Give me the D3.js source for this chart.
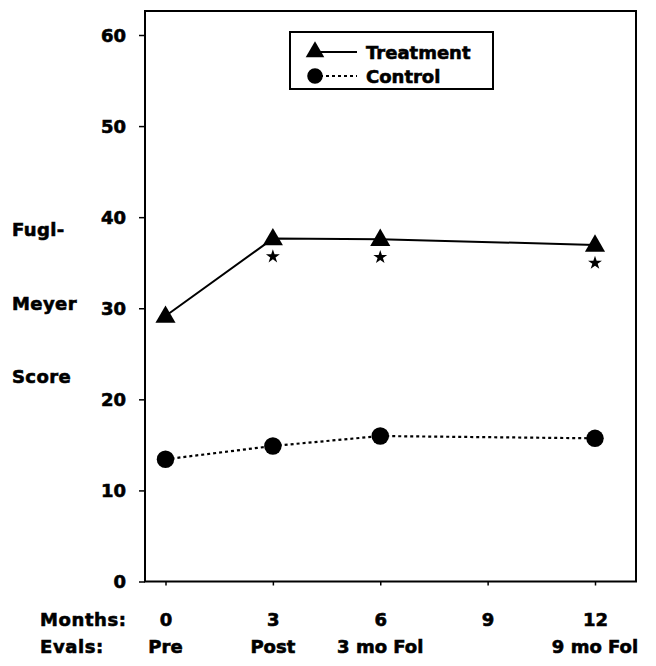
<!DOCTYPE html>
<html>
<head>
<meta charset="utf-8">
<script src="https://cdn.jsdelivr.net/npm/d3@7"></script>
<style>
  html, body { margin: 0; padding: 0; background: #fff; }
  svg text { font-family: "DejaVu Sans", "Liberation Sans", Arial, sans-serif; font-weight: bold; fill: #000; stroke: #000; stroke-width: 0.6px; }
</style>
</head>
<body>
<svg id="chart" width="656" height="666"></svg>
<script>
// ---- data ----
const months = [0, 3, 6, 12];
const treatment = [29.15, 37.65, 37.58, 36.95];
const control = [13.42, 14.88, 15.97, 15.72];
const significant = [false, true, true, true];
const monthTicks = [0, 3, 6, 9, 12];
const evalLabels = [
  { month: 0, label: "Pre" },
  { month: 3, label: "Post" },
  { month: 6, label: "3 mo Fol" },
  { month: 12, label: "9 mo Fol" }
];
const yTicks = [0, 10, 20, 30, 40, 50, 60];
const yTitle = ["Fugl-", "Meyer", "Score"];
const seriesNames = ["Treatment", "Control"];

// ---- layout ----
const svg = d3.select("#chart");
const frame = { left: 145, right: 636, top: 11, bottom: 581.5 };
const x = d3.scaleLinear().domain([0, 12]).range([165.5, 595]);
const y = d3.scaleLinear().domain([0, 60]).range([581.5, 35]);

// frame
svg.append("rect")
  .attr("x", frame.left).attr("y", frame.top)
  .attr("width", frame.right - frame.left).attr("height", frame.bottom - frame.top)
  .attr("fill", "none").attr("stroke", "#000").attr("stroke-width", 2);

// y axis
const yAxis = d3.axisLeft(y).tickValues(yTicks).tickSize(6).tickPadding(13).tickFormat(d3.format("d"));
const gy = svg.append("g").attr("transform", `translate(${frame.left},0)`).call(yAxis);
gy.select(".domain").remove();
gy.selectAll(".tick line").attr("stroke", "#000").attr("stroke-width", 1.5);
gy.selectAll(".tick text").style("font-size", "18px").attr("dy", "0.36em").attr("fill", "#000");

// x axis
const xAxis = d3.axisBottom(x).tickValues(monthTicks).tickSize(4).tickPadding(0).tickFormat(d3.format("d"));
const gx = svg.append("g").attr("transform", `translate(0,${frame.bottom})`).call(xAxis);
gx.select(".domain").remove();
gx.selectAll(".tick line").attr("stroke", "#000").attr("stroke-width", 1.5);
gx.selectAll(".tick text").style("font-size", "18px").attr("y", 44.5).attr("dy", 0).attr("fill", "#000");

// x axis row labels
svg.append("text").attr("x", 40).attr("y", 626).style("font-size", "18px").style("letter-spacing", "0.6px").text("Months:");
svg.append("text").attr("x", 40).attr("y", 653).style("font-size", "18px").style("letter-spacing", "0.6px").text("Evals:");
svg.selectAll(".evalLabel").data(evalLabels).enter().append("text")
  .attr("class", "evalLabel")
  .attr("x", d => x(d.month)).attr("y", 653)
  .attr("text-anchor", "middle").style("font-size", "18px")
  .text(d => d.label);

// y title
svg.selectAll(".ytitle").data(yTitle).enter().append("text")
  .attr("class", "ytitle")
  .attr("x", 12).attr("y", (d, i) => 236 + i * 73.5)
  .style("font-size", "18px").style("letter-spacing", "0.4px")
  .text(d => d);

// lines
const tData = months.map((m, i) => ({ m, v: treatment[i], sig: significant[i] }));
const cData = months.map((m, i) => ({ m, v: control[i] }));
const line = d3.line().x(d => x(d.m)).y(d => y(d.v));

svg.append("path").datum(tData).attr("d", line)
  .attr("fill", "none").attr("stroke", "#000").attr("stroke-width", 2);
svg.append("path").datum(cData).attr("d", line)
  .attr("fill", "none").attr("stroke", "#000").attr("stroke-width", 2.2).attr("stroke-dasharray", "3,3");

// markers
const tri = d3.symbol().type(d3.symbolTriangle).size(175);
const circ = d3.symbol().type(d3.symbolCircle).size(240);
svg.selectAll(".tri").data(tData).enter().append("path")
  .attr("class", "tri")
  .attr("d", tri)
  .attr("transform", d => `translate(${x(d.m)},${y(d.v) + 1})`)
  .attr("fill", "#000");
svg.selectAll(".circ").data(cData).enter().append("path")
  .attr("class", "circ")
  .attr("d", circ)
  .attr("transform", d => `translate(${x(d.m)},${y(d.v)})`)
  .attr("fill", "#000");

// significance asterisks
const star = d3.symbol().type(d3.symbolStar).size(60);
svg.selectAll(".star").data(tData.filter(d => d.sig)).enter().append("path")
  .attr("class", "star")
  .attr("d", star)
  .attr("transform", d => `translate(${x(d.m)},${y(d.v) + 18})`)
  .attr("fill", "#000");

// legend
const lg = svg.append("g");
lg.append("rect").attr("x", 290).attr("y", 32).attr("width", 203).attr("height", 57)
  .attr("fill", "#fff").attr("stroke", "#000").attr("stroke-width", 2);
const legendRows = [
  { name: seriesNames[0], yy: 52, sym: d3.symbol().type(d3.symbolTriangle).size(150), dash: null },
  { name: seriesNames[1], yy: 76, sym: d3.symbol().type(d3.symbolCircle).size(190), dash: "3,3" }
];
legendRows.forEach(r => {
  lg.append("line").attr("x1", 320).attr("x2", 357).attr("y1", r.yy).attr("y2", r.yy)
    .attr("stroke", "#000").attr("stroke-width", 2).attr("stroke-dasharray", r.dash);
  lg.append("path").attr("d", r.sym).attr("transform", `translate(315,${r.yy})`).attr("fill", "#000");
  lg.append("text").attr("x", 366).attr("y", r.yy + 6.5).style("font-size", "18px").text(r.name);
});
</script>
</body>
</html>
